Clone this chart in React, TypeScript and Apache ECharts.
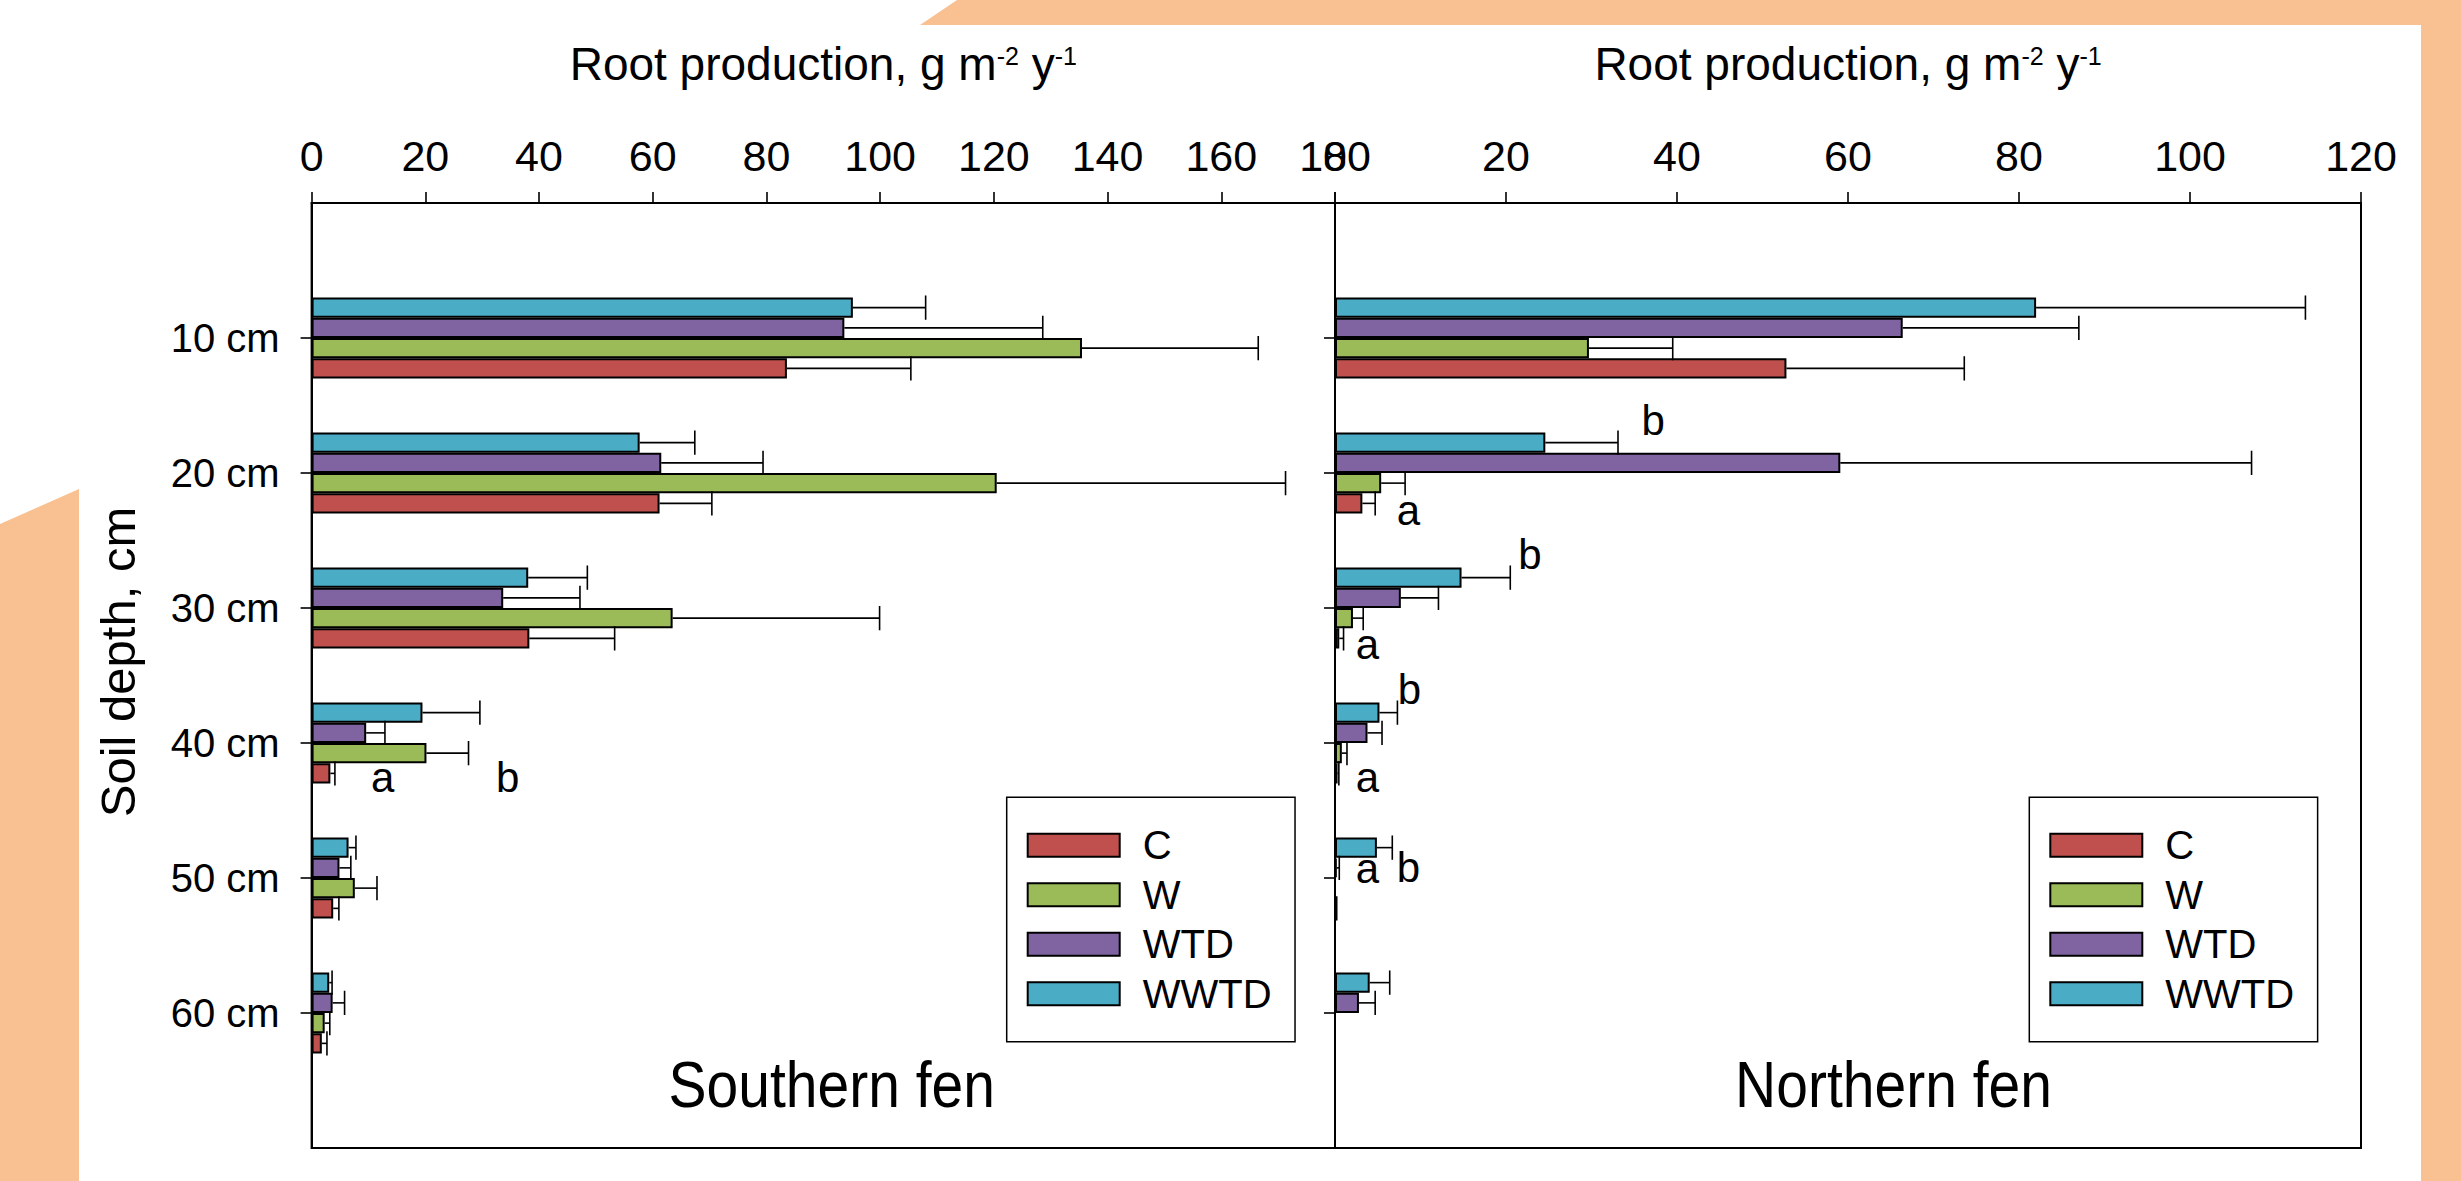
import React, { useEffect, useRef } from 'react';
import * as echarts from 'echarts';

// ---------- data ----------
const depthLabels = ['10 cm', '20 cm', '30 cm', '40 cm', '50 cm', '60 cm'];
const yCategories = ['', ...depthLabels, ''];
const treatments = ['C', 'W', 'WTD', 'WWTD'];
// top-to-bottom order of bars inside each depth group
const stackOrder = ['WWTD', 'WTD', 'W', 'C'];

const southTicks = { min: 0, max: 180, interval: 20 };
const northTicks = { min: 0, max: 120, interval: 20 };

// Southern fen (mean and mean + error)
const southC = [83.6, 61.2, 38.3, 3.3, 3.8, 1.8];
const southCErr = [105.4, 70.4, 53.3, 4.1, 4.8, 2.7];
const southW = [135.5, 120.5, 63.5, 20.2, 7.6, 2.3];
const southWErr = [166.5, 171.3, 99.9, 27.6, 11.5, 3.2];
const southWTD = [93.7, 61.5, 33.7, 9.6, 4.9, 3.7];
const southWTDErr = [128.6, 79.4, 47.2, 12.9, 6.9, 5.8];
const southWWTD = [95.2, 57.7, 38.1, 19.5, 6.5, 3.1];
const southWWTDErr = [108.0, 67.4, 48.5, 29.6, 7.8, 3.6];

// Northern fen
const northC = [52.8, 3.2, 0.5, 0.3, 0.1, 0];
const northCErr = [73.6, 4.7, 1.0, 0.45, 0.2, 0];
const northW = [29.7, 5.4, 2.1, 0.8, 0, 0];
const northWErr = [39.5, 8.2, 3.3, 1.4, 0, 0];
const northWTD = [66.4, 59.1, 7.7, 3.8, 0.2, 2.8];
const northWTDErr = [87.0, 107.2, 12.1, 5.5, 0.5, 4.7];
const northWWTD = [82.0, 24.6, 14.8, 5.2, 4.9, 4.06];
const northWWTDErr = [113.5, 33.1, 20.5, 7.3, 6.7, 6.4];

// significance letters: panel, category index, x value, vertical shift (fraction of band)
const letters = [
  { panel: 0, cat: 4, x: 12.5, dy: 0.254, text: 'a' },
  { panel: 0, cat: 4, x: 34.5, dy: 0.254, text: 'b' },
  { panel: 1, cat: 2, x: 37.2, dy: -0.39, text: 'b' },
  { panel: 1, cat: 2, x: 8.6, dy: 0.276, text: 'a' },
  { panel: 1, cat: 3, x: 22.8, dy: -0.396, text: 'b' },
  { panel: 1, cat: 3, x: 3.8, dy: 0.271, text: 'a' },
  { panel: 1, cat: 4, x: 8.7, dy: -0.396, text: 'b' },
  { panel: 1, cat: 4, x: 3.8, dy: 0.256, text: 'a' },
  { panel: 1, cat: 5, x: 3.8, dy: -0.072, text: 'a' },
  { panel: 1, cat: 5, x: 8.6, dy: -0.079, text: 'b' },
];

const panelNames = ['Southern fen', 'Northern fen'];

// ---------- styling ----------
const FONT = '"Liberation Sans", Arial, Helvetica, sans-serif';
const NARROW = '"Liberation Sans Narrow", "Arial Narrow", "Liberation Sans", sans-serif';
const ORANGE = '#F9C192';
const colors: Record<string, string> = { C: '#C0504D', W: '#9BBB59', WTD: '#8064A2', WWTD: '#4BACC6' };
const BAR_FRAC = 0.15;

const panelData = [
  {
    values: { C: southC, W: southW, WTD: southWTD, WWTD: southWWTD } as Record<string, number[]>,
    errs: { C: southCErr, W: southWErr, WTD: southWTDErr, WWTD: southWWTDErr } as Record<string, number[]>,
  },
  {
    values: { C: northC, W: northW, WTD: northWTD, WWTD: northWWTD } as Record<string, number[]>,
    errs: { C: northCErr, W: northWErr, WTD: northWTDErr, WWTD: northWWTDErr } as Record<string, number[]>,
  },
];

function buildOption() {
  const grids = [
    { left: 311.6, top: 203, width: 1023.4, height: 945 },
    { left: 1335, top: 203, width: 1026, height: 945 },
  ].map((g) => ({ ...g, show: true, borderColor: '#000', borderWidth: 2, backgroundColor: 'transparent' }));

  const xAxes = [southTicks, northTicks].map((t, i) => ({
    type: 'value',
    gridIndex: i,
    position: 'top',
    min: t.min,
    max: t.max,
    interval: t.interval,
    name: '{a|Root production, g m}{s|-2}{a| y}{s|-1}',
    nameLocation: 'middle',
    nameGap: 116,
    nameTextStyle: {
      color: '#000',
      rich: {
        a: { fontSize: 46, fontFamily: FONT, color: '#000' },
        s: { fontSize: 25, fontFamily: FONT, color: '#000', verticalAlign: 'top', padding: [2, 0, 0, 0] },
      },
    },
    axisLine: { show: true, lineStyle: { color: '#000', width: 2 } },
    axisTick: { show: true, inside: false, length: 11, lineStyle: { color: '#000', width: 1.6 } },
    axisLabel: { show: true, margin: 26, fontSize: 43, fontFamily: NARROW, color: '#000' },
    splitLine: { show: false },
  }));

  const yAxes = [0, 1].map((i) => ({
    type: 'category',
    gridIndex: i,
    data: yCategories,
    inverse: true,
    boundaryGap: false,
    axisLine: { show: true, lineStyle: { color: '#000', width: 2 } },
    axisTick: {
      show: true,
      inside: false,
      length: 11,
      interval: (idx: number) => idx > 0 && idx < yCategories.length - 1,
      lineStyle: { color: '#000', width: 1.6 },
    },
    axisLabel: { show: i === 0, interval: 0, margin: 32, fontSize: 40, fontFamily: FONT, color: '#000' },
    splitLine: { show: false },
  }));

  const series: any[] = [];
  panelData.forEach((pd, p) => {
    stackOrder.forEach((name) => {
      series.push({
        type: 'bar',
        name,
        xAxisIndex: p,
        yAxisIndex: p,
        barWidth: `${BAR_FRAC * 100}%`,
        barGap: '0%',
        itemStyle: { color: colors[name], borderColor: '#000', borderWidth: 2 },
        data: [null, ...pd.values[name], null],
        z: 2,
      });
    });
    const errData: number[][] = [];
    stackOrder.forEach((name, pos) => {
      pd.values[name].forEach((v, k) => {
        const e = pd.errs[name][k];
        if (e > v) errData.push([v, k + 1, e, pos]);
      });
    });
    series.push({
      type: 'custom',
      name: 'err' + p,
      xAxisIndex: p,
      yAxisIndex: p,
      z: 3,
      silent: true,
      encode: { x: 0, y: 1 },
      data: errData,
      renderItem: (params: any, api: any) => {
        const v = api.value(0);
        const cat = api.value(1);
        const e = api.value(2);
        const pos = api.value(3);
        const band = api.size([0, 1])[1];
        const bh = band * BAR_FRAC;
        const a = api.coord([v, cat]);
        const b = api.coord([e, cat]);
        const y = a[1] + (pos - 1.5) * bh;
        const cap = bh * 0.6;
        return {
          type: 'group',
          children: [
            { type: 'line', shape: { x1: a[0], y1: y, x2: b[0], y2: y }, style: { stroke: '#000', lineWidth: 1.6 } },
            { type: 'line', shape: { x1: b[0], y1: y - cap, x2: b[0], y2: y + cap }, style: { stroke: '#000', lineWidth: 1.6 } },
          ],
        };
      },
    });
    const panelLetters = letters.filter((l) => l.panel === p);
    series.push({
      type: 'custom',
      name: 'letters' + p,
      xAxisIndex: p,
      yAxisIndex: p,
      z: 4,
      silent: true,
      encode: { x: 0, y: 1 },
      data: panelLetters.map((l) => [l.x, l.cat, l.dy]),
      renderItem: (params: any, api: any) => {
        const c = api.coord([api.value(0), api.value(1)]);
        const band = api.size([0, 1])[1];
        return {
          type: 'text',
          x: c[0],
          y: c[1] + api.value(2) * band,
          style: {
            text: panelLetters[params.dataIndex].text,
            fontSize: 42,
            fontFamily: NARROW,
            fill: '#000',
            align: 'center',
            verticalAlign: 'middle',
          },
        };
      },
    });
  });

  const legends = [1006.7, 2029.3].map((left) => ({
    data: treatments,
    orient: 'vertical',
    left,
    top: 797.3,
    itemWidth: 92,
    itemHeight: 23,
    itemGap: 9.5,
    icon: 'rect',
    padding: [28, 23.5, 28, 20],
    borderColor: '#000',
    borderWidth: 1.5,
    backgroundColor: '#fff',
    selectedMode: false,
    textStyle: { fontSize: 40, fontFamily: FONT, color: '#000', padding: [0, 0, 0, 18] },
    itemStyle: { borderColor: '#000', borderWidth: 2 },
  }));

  const graphic = [
    {
      type: 'polygon',
      silent: true,
      shape: { points: [[920, 25], [957, 0], [2461, 0], [2461, 1181], [2421, 1181], [2421, 25]] },
      style: { fill: ORANGE },
    },
    {
      type: 'polygon',
      silent: true,
      shape: { points: [[0, 524], [79, 489], [79, 1181], [0, 1181]] },
      style: { fill: ORANGE },
    },
    {
      type: 'text',
      x: 118,
      y: 662,
      rotation: Math.PI / 2,
      style: { text: 'Soil depth, cm', fontSize: 49, fontFamily: FONT, fill: '#000', align: 'center', verticalAlign: 'middle' },
    },
    {
      type: 'text',
      x: 831.7,
      y: 1085,
      scaleY: 1.14,
      z: 10,
      style: { text: panelNames[0], fontSize: 57, fontFamily: FONT, fill: '#000', align: 'center', verticalAlign: 'middle' },
    },
    {
      type: 'text',
      x: 1893.5,
      y: 1085,
      scaleY: 1.14,
      z: 10,
      style: { text: panelNames[1], fontSize: 57, fontFamily: FONT, fill: '#000', align: 'center', verticalAlign: 'middle' },
    },
  ];

  return {
    animation: false,
    backgroundColor: '#fff',
    textStyle: { fontFamily: FONT },
    grid: grids,
    xAxis: xAxes,
    yAxis: yAxes,
    legend: legends,
    series,
    graphic,
  };
}

export default function App() {
  const ref = useRef<HTMLDivElement>(null);
  useEffect(() => {
    document.body.style.margin = '0';
    if (!ref.current) return;
    const chart = echarts.init(ref.current, undefined, { renderer: 'svg' });
    chart.setOption(buildOption() as any);
    return () => chart.dispose();
  }, []);
  return <div ref={ref} style={{ width: 2461, height: 1181 }} />;
}
